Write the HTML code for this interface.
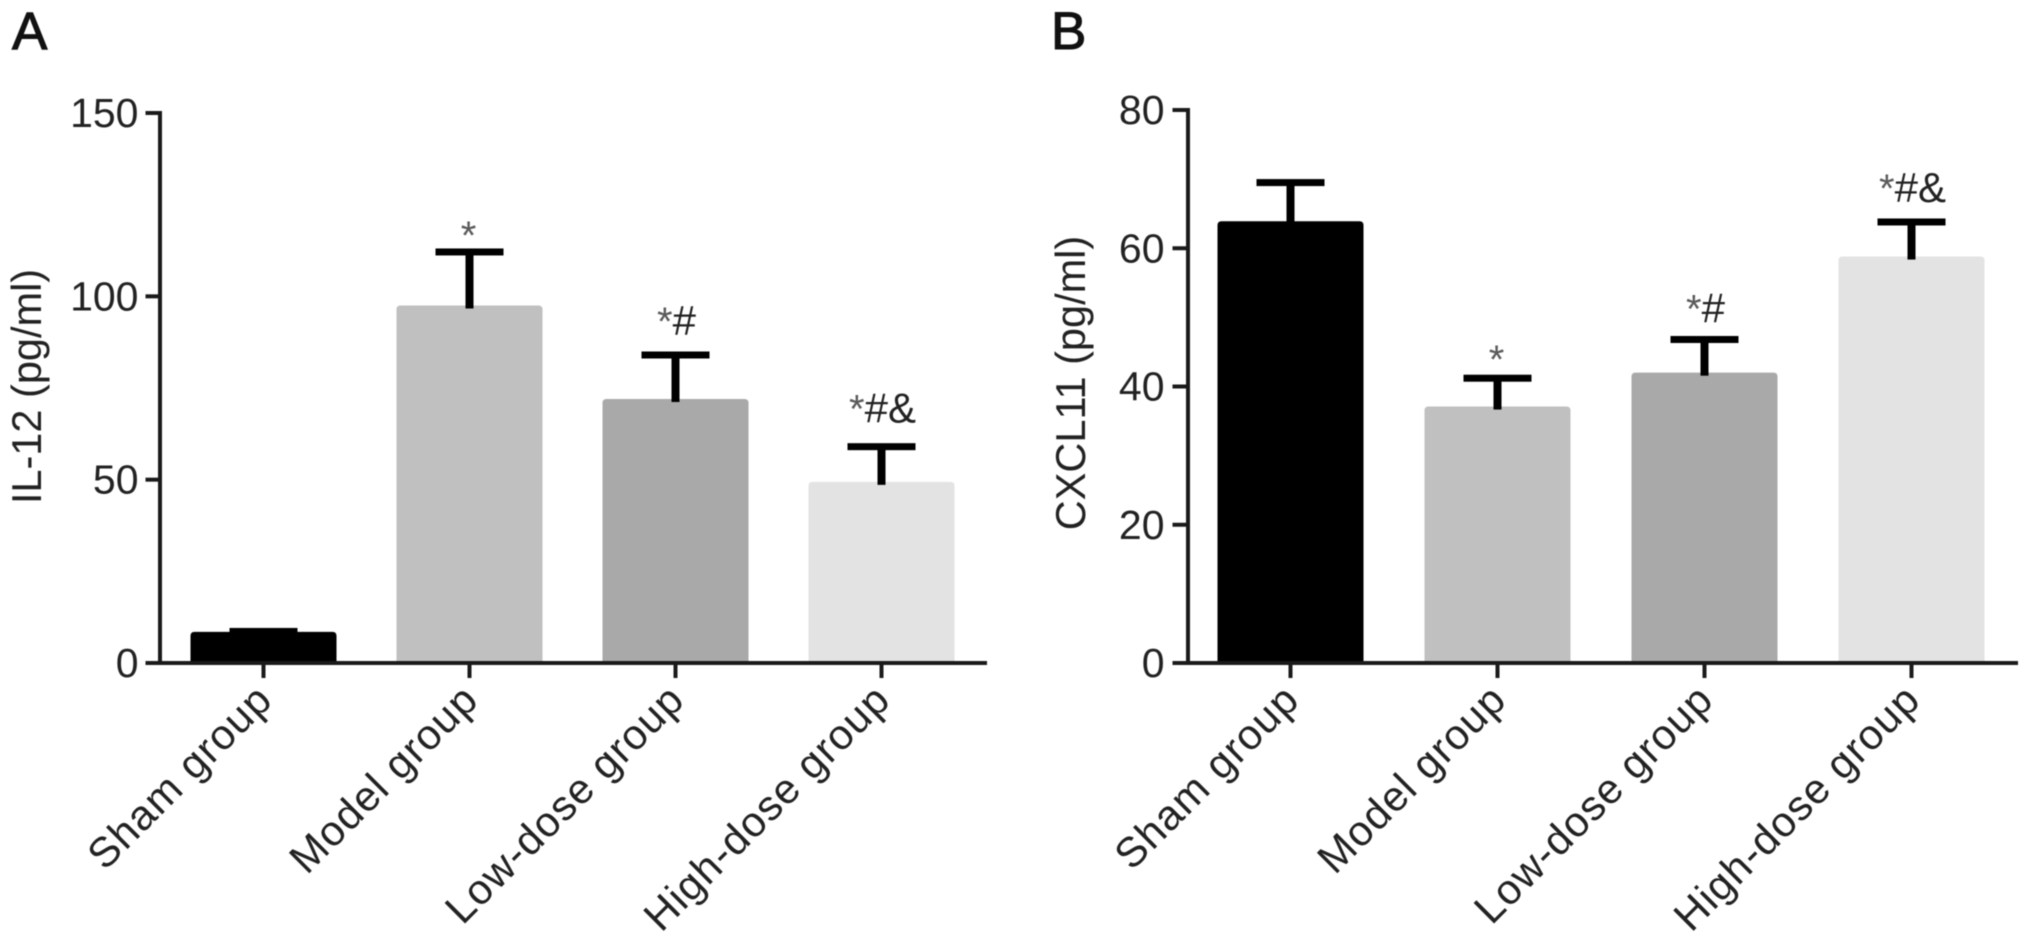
<!DOCTYPE html>
<html lang="en">
<head>
<meta charset="utf-8">
<title>IL-12 and CXCL11 bar charts</title>
<style>
  html, body { margin: 0; padding: 0; background: #fff; }
  body { width: 2031px; height: 947px; overflow: hidden; }
  svg { display: block; filter: blur(0.5px); font-family: "Liberation Sans", Arial, sans-serif; }
</style>
</head>
<body>
<svg id="figure" xmlns="http://www.w3.org/2000/svg" width="2031" height="947" viewBox="0 0 2031 947">
  <rect x="0" y="0" width="2031" height="947" fill="#fff"/>
  <text x="12" y="49" font-size="53" fill="#111" stroke="#111" stroke-width="1.1">A</text>
  <text x="1051" y="49" font-size="53" fill="#111" stroke="#111" stroke-width="1.1">B</text>
</svg>
<script>
const categories = ["Sham group", "Model group", "Low-dose group", "High-dose group"];
const barColors = ["#000000", "#c0c0c0", "#a9a9a9", "#e3e3e3"];

const il12Title = "IL-12 (pg/ml)";
const il12Ticks = [0, 50, 100, 150];
const il12Values = [8.5, 97.5, 72, 49.4];
const il12ErrorTops = [8.6, 112.1, 84, 59];
const il12Marks = ["", "*", "*#", "*#&"];

const cxcl11Title = "CXCL11 (pg/ml)";
const cxcl11Ticks = [0, 20, 40, 60, 80];
const cxcl11Values = [63.9, 37.1, 42, 58.8];
const cxcl11ErrorTops = [69.5, 41.2, 46.8, 63.8];
const cxcl11Marks = ["", "*", "*#", "*#&"];

const svg = document.getElementById("figure");
const NS = "http://www.w3.org/2000/svg";

function make(tag, attrs, parent) {
  const el = document.createElementNS(NS, tag);
  for (const k in attrs) el.setAttribute(k, attrs[k]);
  parent.appendChild(el);
  return el;
}

function drawPanel(cfg) {
  const y = v => cfg.y0 - (v / cfg.max) * (cfg.y0 - cfg.yTop);
  const x = i => cfg.x0 + i * cfg.step;
  const top = cfg.ticks[cfg.ticks.length - 1];

  const g = make("g", {}, svg);
  
  

  cfg.values.forEach((v, i) => {
    const cx = x(i), w = 146, r = 4, py = y(v), base = cfg.y0;
    const bar = make("path", {
      d: `M${cx - w / 2} ${base}V${py + r}Q${cx - w / 2} ${py} ${cx - w / 2 + r} ${py}H${cx + w / 2 - r}Q${cx + w / 2} ${py} ${cx + w / 2} ${py + r}V${base}Z`,
      fill: barColors[i]
    }, g);
    
    

    const capY = y(cfg.errorTops[i]);
    const stem = make("rect", { x: cx - 4, y: capY, width: 8, height: Math.max(0, py + 3 - capY), fill: "#000" }, g);
    
    

    const cap = make("rect", { x: cx - 34, y: capY - 3.5, width: 68, height: 7, fill: "#000" }, g);
    
    

    const mark = cfg.marks[i];
    if (mark) {
      const t = make("text", {
        x: cx + (mark.length > 1 ? 1 : -1),
        y: capY - cfg.markGaps[mark.length - 1],
        "text-anchor": "middle",
        "font-size": 40,
        fill: "#222"
      }, g);
      
      
      const star = make("tspan", { fill: "#5a5a5a" }, t);
      star.textContent = "*";
      if (mark.length > 1) {
        const rest = make("tspan", { "font-size": 42 }, t);
        rest.textContent = mark.slice(1);
      }
    }

    const tick = make("rect", { x: cx - 2, y: cfg.y0, width: 4, height: 15, fill: "#1a1a1a" }, g);
    
    

    const ax = cx + 11, ay = 702;
    const label = make("text", {
      x: ax, y: ay,
      transform: `rotate(-45 ${ax} ${ay})`,
      "text-anchor": "end",
      "font-size": 42,
      "letter-spacing": 1.1,
      fill: "#222"
    }, g);
    label.textContent = categories[i];
    
    
  });

  const yAxis = make("rect", { x: cfg.axisX - 2, y: y(top) - 2, width: 4, height: cfg.y0 - y(top) + 4, fill: "#1a1a1a" }, g);
  
  

  const xAxis = make("rect", { x: cfg.tickLeft, y: cfg.y0 - 2, width: cfg.axisRight - cfg.tickLeft, height: 4, fill: "#1a1a1a" }, g);
  
  

  cfg.ticks.forEach(v => {
    const tick = make("rect", { x: cfg.tickLeft, y: y(v) - 2, width: cfg.axisX - cfg.tickLeft, height: 4, fill: "#1a1a1a" }, g);
    
    

    const t = make("text", { x: cfg.tickLeft - cfg.labelGap, y: y(v) + 14, "text-anchor": "end", "font-size": 41, fill: "#222" }, g);
    t.textContent = v;
    
    
  });

  const title = make("text", {
    x: cfg.titleX, y: cfg.titleY,
    transform: `rotate(-90 ${cfg.titleX} ${cfg.titleY})`,
    "text-anchor": "middle",
    "font-size": 41.5,
    fill: "#222"
  }, g);
  title.textContent = cfg.title;
  
  
}

drawPanel({
  name: "panel-a-il12", title: il12Title, ticks: il12Ticks,
  values: il12Values, errorTops: il12ErrorTops, marks: il12Marks,
  max: 150, y0: 663, yTop: 113,
  x0: 263.5, step: 206, axisX: 160, tickLeft: 145.5, axisRight: 987,
  labelGap: 7, titleX: 41, titleY: 386.5, markGaps: [3, 20, 24]
});

drawPanel({
  name: "panel-b-cxcl11", title: cxcl11Title, ticks: cxcl11Ticks,
  values: cxcl11Values, errorTops: cxcl11ErrorTops, marks: cxcl11Marks,
  max: 80, y0: 663, yTop: 110,
  x0: 1290.5, step: 207, axisX: 1188, tickLeft: 1172.5, axisRight: 2018,
  labelGap: 8, titleX: 1085, titleY: 383, markGaps: [5, 17, 20]
});
</script>
</body>
</html>
